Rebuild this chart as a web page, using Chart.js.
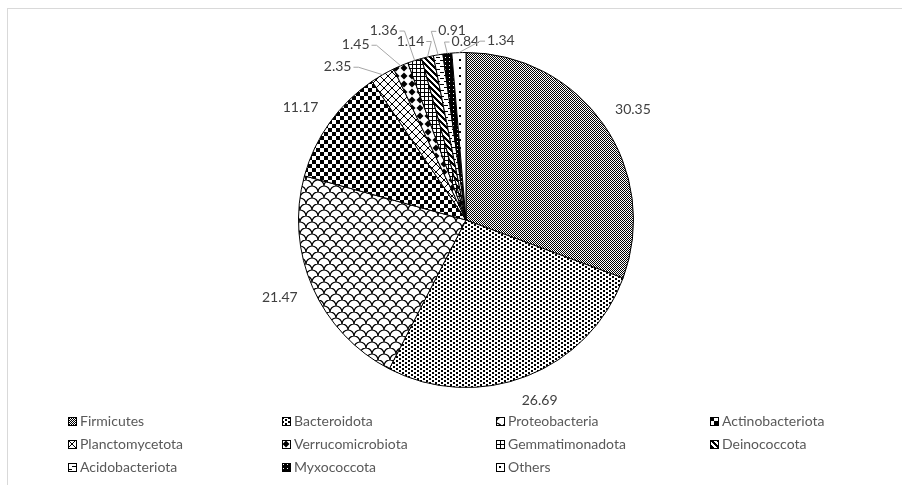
<!doctype html>
<html>
<head>
<meta charset="utf-8">
<script src="https://cdn.jsdelivr.net/npm/chart.js"></script>
<style>
  body { margin:0; background:#fff; }
  #wrap { position:relative; width:902px; height:485px; overflow:hidden; }
  #frame { position:absolute; left:7px; top:8px; width:2000px; height:2000px; border:1px solid #d9d9d9; }
  #c { position:absolute; left:0; top:0; }
  #legend { position:absolute; left:68px; top:409px; display:grid; grid-template-columns:214px 214px 214px 214px;
            font-family:Lato, sans-serif; font-size:14px; color:#595959; }
  #legend div { height:23px; line-height:23px; white-space:nowrap; }
  #legend canvas { vertical-align:middle; margin-right:3px; position:relative; top:-1px; }
</style>
</head>
<body>
<div id="wrap">
  <div id="frame"></div>
  <canvas id="c" width="902" height="485"></canvas>
  <div id="legend"></div>
</div>
<script>
// phylum relative abundance (%)
const phyla = ['Firmicutes','Bacteroidota','Proteobacteria','Actinobacteriota','Planctomycetota',
               'Verrucomicrobiota','Gemmatimonadota','Deinococcota','Acidobacteriota','Myxococcota','Others'];
const abundance = [30.35, 26.69, 21.47, 11.17, 2.35, 1.45, 1.36, 1.14, 0.91, 0.84, 1.34];

// label offsets from the slice edge for the thin slices (null = outside end)
const nudge = [null, null, null, null, [-45,-8], [-45,-21], [-31,-30], [-17,-16], [14,-24], [18,-12], [42,-12]];

function tile(w, h, draw) {
  const c = document.createElement('canvas');
  c.width = w; c.height = h;
  const g = c.getContext('2d');
  g.fillStyle = '#fff'; g.fillRect(0, 0, w, h);
  g.fillStyle = '#000'; g.strokeStyle = '#000';
  draw(g, w, h);
  return c;
}
function px(g, test, w, h) {
  for (let y = 0; y < h; y++) for (let x = 0; x < w; x++) if (test(x, y)) g.fillRect(x, y, 1, 1);
}

const tiles = [
  tile(2, 2, g => { g.fillRect(0,0,1,1); g.fillRect(1,1,1,1); }),
  tile(6, 4, g => { g.fillRect(0,0,2,2); g.fillRect(3,2,2,2); }),
  tile(12, 12, g => {
    g.lineWidth = 1.2;
    g.beginPath(); g.arc(6, 6, 6, Math.PI, 2*Math.PI); g.stroke();
    g.beginPath(); g.arc(0, 12, 6, 1.5*Math.PI, 2*Math.PI); g.stroke();
    g.beginPath(); g.arc(12, 12, 6, Math.PI, 1.5*Math.PI); g.stroke();
  }),
  tile(8, 8, g => { g.fillRect(0,0,4,4); g.fillRect(4,4,4,4); }),
  tile(8, 8, (g,w,h) => px(g, (x,y) => x === y || x === 7 - y, w, h)),
  tile(8, 8, g => { g.beginPath(); g.moveTo(4,0.5); g.lineTo(7.5,4); g.lineTo(4,7.5); g.lineTo(0.5,4); g.closePath(); g.fill(); }),
  tile(4, 4, g => { g.fillRect(0,0,4,1); g.fillRect(0,0,1,4); }),
  tile(6, 6, (g,w,h) => px(g, (x,y) => (x - y + 6) % 6 < 3, w, h)),
  tile(8, 6, g => { g.fillRect(0,0,4,1); g.fillRect(4,3,4,1); }),
  tile(4, 4, g => { g.fillRect(0,0,4,4); g.fillStyle = '#fff'; g.fillRect(1,1,1,1); }),
  tile(8, 8, g => { g.fillRect(3,3,2,2); })
];

const ctx = document.getElementById('c').getContext('2d');
const fills = tiles.map(t => ctx.createPattern(t, 'repeat'));

const pieLabels = {
  id: 'pieLabels',
  afterDatasetsDraw(chart) {
    const g = chart.ctx;
    const meta = chart.getDatasetMeta(0);
    g.save();
    g.font = '14px Lato, sans-serif';
    g.textAlign = 'center';
    g.textBaseline = 'middle';
    meta.data.forEach((arc, i) => {
      const p = arc.getProps(['x','y','startAngle','endAngle','outerRadius'], true);
      const mid = (p.startAngle + p.endAngle) / 2;
      const c = Math.cos(mid), s = Math.sin(mid);
      const ex = p.x + c * p.outerRadius;
      const ey = p.y + s * p.outerRadius;
      const txt = abundance[i].toFixed(2);
      const w = g.measureText(txt).width;
      let lx, ly;
      if (nudge[i]) {
        lx = ex + nudge[i][0]; ly = ey + nudge[i][1];
        const side = lx < ex ? 1 : -1;
        const sx = lx + side * (w/2 + 2);
        g.strokeStyle = '#a6a6a6'; g.lineWidth = 1;
        g.beginPath();
        g.moveTo(sx, ly + 0.5);
        g.lineTo(sx + side * 5, ly + 0.5);
        g.lineTo(ex, ey);
        g.stroke();
      } else {
        // outside end: box pushed out along the bisector
        const d = p.outerRadius + 18;
        lx = p.x + c * d + c * w / 2;
        ly = p.y + s * d + s * 8;
      }
      g.fillStyle = '#404040';
      g.fillText(txt, lx, ly);
    });
    g.restore();
  }
};

new Chart(ctx, {
  type: 'pie',
  data: {
    labels: phyla,
    datasets: [{ data: abundance, backgroundColor: fills, borderColor: '#000', borderWidth: 1 }]
  },
  options: {
    responsive: false,
    animation: false,
    layout: { padding: { left: 298, right: 268, top: 52, bottom: 97 } },
    plugins: { legend: { display: false }, tooltip: { enabled: false } }
  },
  plugins: [pieLabels]
});

// legend, laid out row by row in four columns
const leg = document.getElementById('legend');
phyla.forEach((name, i) => {
  const item = document.createElement('div');
  const sw = document.createElement('canvas');
  sw.width = 9; sw.height = 9;
  const sg = sw.getContext('2d');
  sg.fillStyle = sg.createPattern(tiles[i], 'repeat');
  sg.fillRect(0, 0, 9, 9);
  sg.strokeStyle = '#000'; sg.strokeRect(0.5, 0.5, 8, 8);
  item.appendChild(sw);
  item.appendChild(document.createTextNode(name));
  leg.appendChild(item);
});
</script>
</body>
</html>
